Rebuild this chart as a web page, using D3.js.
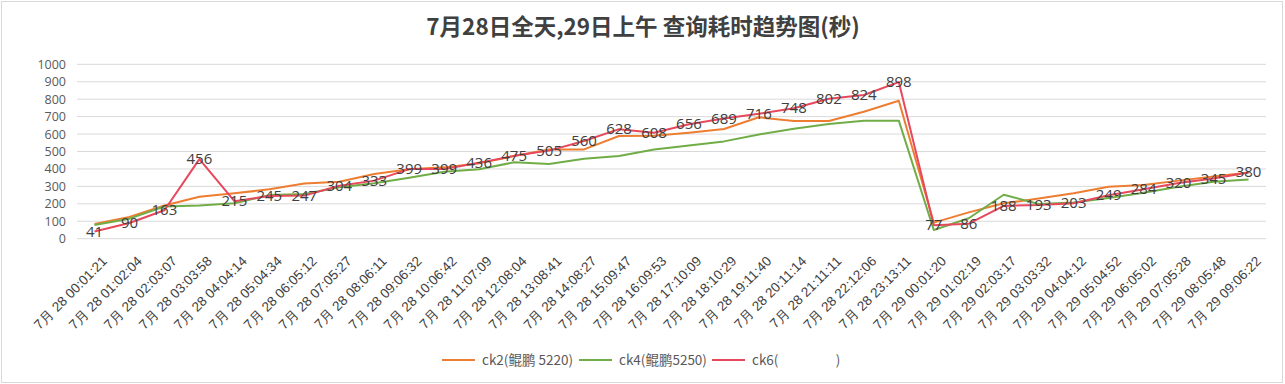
<!DOCTYPE html>
<html><head><meta charset="utf-8">
<script src="https://cdn.jsdelivr.net/npm/d3@7/dist/d3.min.js"></script>
<style>
html,body{margin:0;padding:0;background:#fff;}
svg{display:block;font-family:"Noto Sans CJK SC","Noto Sans",sans-serif;}
</style></head>
<body><svg id="c" width="1285" height="384"></svg>
<script>
const categories = ["7月 28 00:01:21","7月 28 01:02:04","7月 28 02:03:07","7月 28 03:03:58","7月 28 04:04:14","7月 28 05:04:34","7月 28 06:05:12","7月 28 07:05:27","7月 28 08:06:11","7月 28 09:06:32","7月 28 10:06:42","7月 28 11:07:09","7月 28 12:08:04","7月 28 13:08:41","7月 28 14:08:27","7月 28 15:09:47","7月 28 16:09:53","7月 28 17:10:09","7月 28 18:10:29","7月 28 19:11:40","7月 28 20:11:14","7月 28 21:11:11","7月 28 22:12:06","7月 28 23:13:11","7月 29 00:01:20","7月 29 01:02:19","7月 29 02:03:17","7月 29 03:03:32","7月 29 04:04:12","7月 29 05:04:52","7月 29 06:05:02","7月 29 07:05:28","7月 29 08:05:48","7月 29 09:06:22"];
const ck2 = [85,125,190,241,260,283,316,327,371,398,409,432,474,512,512,589,590,608,629,696,675,675,728,791,92,151,203,230,260,298,308,333,356,379];
const ck4 = [78,115,185,191,203,250,256,295,318,350,384,398,438,428,459,474,512,535,558,598,631,658,677,677,50,117,252,199,207,233,264,298,327,340];
const ck6 = [41,90,163,456,215,245,247,304,333,399,399,436,475,505,560,628,608,656,689,716,748,802,824,898,77,86,188,193,203,249,284,320,345,380];
const yTicks = [0,100,200,300,400,500,600,700,800,900,1000];
const seriesNames = ["ck2(鲲鹏 5220)","ck4(鲲鹏5250)","ck6(                   )"];
const colors = ["#ED7D31","#70AD47","#E8485C"];
const title = "7月28日全天,29日上午 查询耗时趋势图(秒)";

const svg = d3.select("#c");
svg.append("rect").attr("x",1.5).attr("y",1.5).attr("width",1281).attr("height",381)
  .attr("fill","#fff").attr("stroke","#d9d9d9");

const L=77, R=1266, T=64.3, B=238.7;
const x = d3.scaleBand().domain(categories).range([L,R]);
const y = d3.scaleLinear().domain([0,1000]).range([B,T]);
const cx = c => x(c)+x.bandwidth()/2;

// gridlines
svg.append("g").selectAll("line").data(yTicks).join("line")
  .attr("x1",L).attr("x2",R).attr("y1",d=>y(d)).attr("y2",d=>y(d))
  .attr("stroke","#d9d9d9").attr("stroke-width",1);

// y axis
const ya = svg.append("g").attr("transform",`translate(${L},0)`)
  .call(d3.axisLeft(y).tickValues(yTicks).tickFormat(d3.format("d")).tickSize(0).tickPadding(11));
ya.select(".domain").remove();
ya.selectAll("text").attr("fill","#595959").style("font-size","12.5px").style("font-family","'Open Sans','Noto Sans',sans-serif");

// x axis labels
const xa = svg.append("g").attr("transform",`translate(0,${B})`)
  .call(d3.axisBottom(x).tickSize(0));
xa.select(".domain").remove();
xa.selectAll("text").attr("fill","#404040").style("font-size","13.5px")
  .attr("text-anchor","end").attr("dy","0.35em").attr("y",0)
  .attr("transform","translate(10,20) rotate(-45)");

// lines
const line = d3.line().x((d,i)=>cx(categories[i])).y(d=>y(d));
[ck2,ck4,ck6].forEach((s,k)=>{
  svg.append("path").datum(s).attr("d",line).attr("fill","none")
    .attr("stroke",colors[k]).attr("stroke-width",2).attr("stroke-linejoin","round");
});

// data labels for ck6
svg.append("g").selectAll("text").data(ck6).join("text")
  .attr("x",(d,i)=>cx(categories[i])).attr("y",d=>y(d)+5)
  .attr("text-anchor","middle").attr("fill","#404040")
  .style("font-size","15px").style("font-family","'Open Sans','Noto Sans',sans-serif")
  .text(d=>d);

// title
svg.append("text").attr("x",643).attr("y",35).attr("text-anchor","middle")
  .attr("fill","#404040").style("font-size","22.5px").style("font-weight","bold").text(title);

// legend
const lg = svg.append("g");
const legX = [442,579,712];
seriesNames.forEach((n,k)=>{
  lg.append("line").attr("x1",legX[k]).attr("x2",legX[k]+33).attr("y1",360).attr("y2",360)
    .attr("stroke",colors[k]).attr("stroke-width",2);
  lg.append("text").attr("x",legX[k]+40).attr("y",364.5).attr("fill","#595959")
    .style("font-size","13.5px").style("white-space","pre").attr("xml:space","preserve").text(n);
});
</script></body></html>
